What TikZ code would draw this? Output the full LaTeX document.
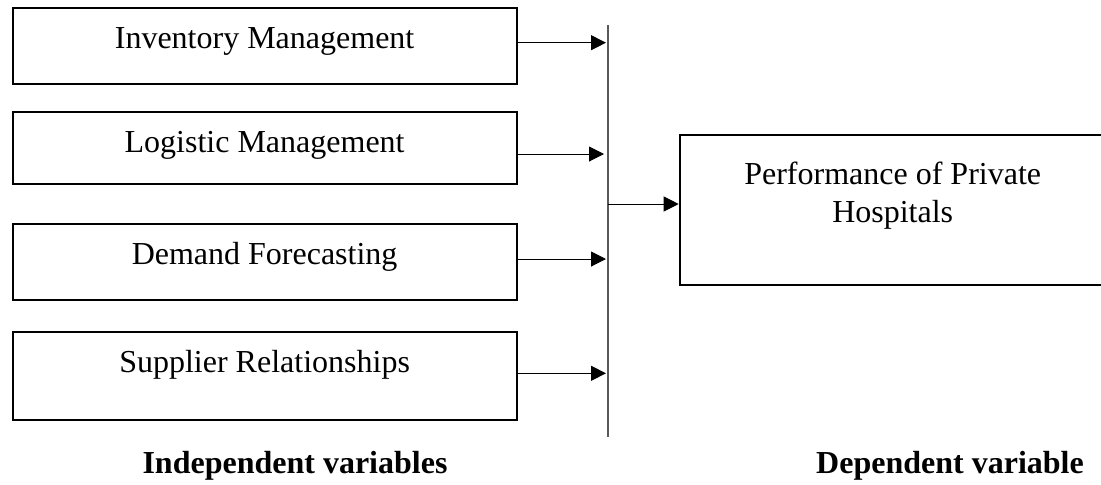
\documentclass[tikz,border=0pt]{standalone}
\usepackage{fontspec}
\setmainfont{Liberation Serif}
\usetikzlibrary{positioning,arrows.meta}

\begin{document}
\begin{tikzpicture}[x=0.5pt, y=-0.5pt,
                    >={Triangle[length=7.5pt,width=7.5pt]},
                    varbox/.style={draw, line width=1pt, anchor=north west, inner sep=0pt,
                                   minimum width=252pt, text height=20.5pt,
                                   font=\fontsize{16}{19}\selectfont},
                    depbox/.style={draw, line width=1pt, anchor=north west, inner sep=0pt,
                                   minimum width=213pt, align=center,
                                   font=\fontsize{16}{19}\selectfont},
                    link/.style={->, line width=0.5pt},
                    spine/.style={draw=black!65, line width=0.6pt},
                    heading/.style={anchor=base, font=\fontsize{16}{19}\selectfont\bfseries}]
\useasboundingbox (0,0) rectangle (1101,484);
\node[varbox, text depth=17.5pt] (inv) at (11.6,6.7) {Inventory Management};
\node[varbox, text depth=15.5pt] (log) at (11.6,110.7) {Logistic Management};
\node[varbox, text depth=17.8pt] (dem) at (11.6,222.7) {Demand Forecasting};
\node[varbox, text depth=23.5pt] (sup) at (11.6,330.7) {Supplier Relationships};
\node[depbox, text height=43.5pt, text depth=31.6pt] (perf) at (678.7,134) {Performance of Private\\Hospitals};
\coordinate (top) at (608,25);
\coordinate (bot) at (608,437);
\coordinate (j1) at (606,42.7);
\coordinate (j2) at (604,154);
\coordinate (j3) at (606,259);
\coordinate (j4) at (606,373.3);
\coordinate (jp) at (608,204);
\draw[spine] (top) -- (bot);
\draw[link] (inv.east |- j1) -- (j1);
\draw[link] (log.east |- j2) -- (j2);
\draw[link] (dem.east |- j3) -- (j3);
\draw[link] (sup.east |- j4) -- (j4);
\draw[link] (jp) -- (perf.west |- jp);
\node[heading] (indep) at (295,473) {Independent variables};
\node[heading] (dep) at (950,473) {Dependent variable};
\end{tikzpicture}
\end{document}
